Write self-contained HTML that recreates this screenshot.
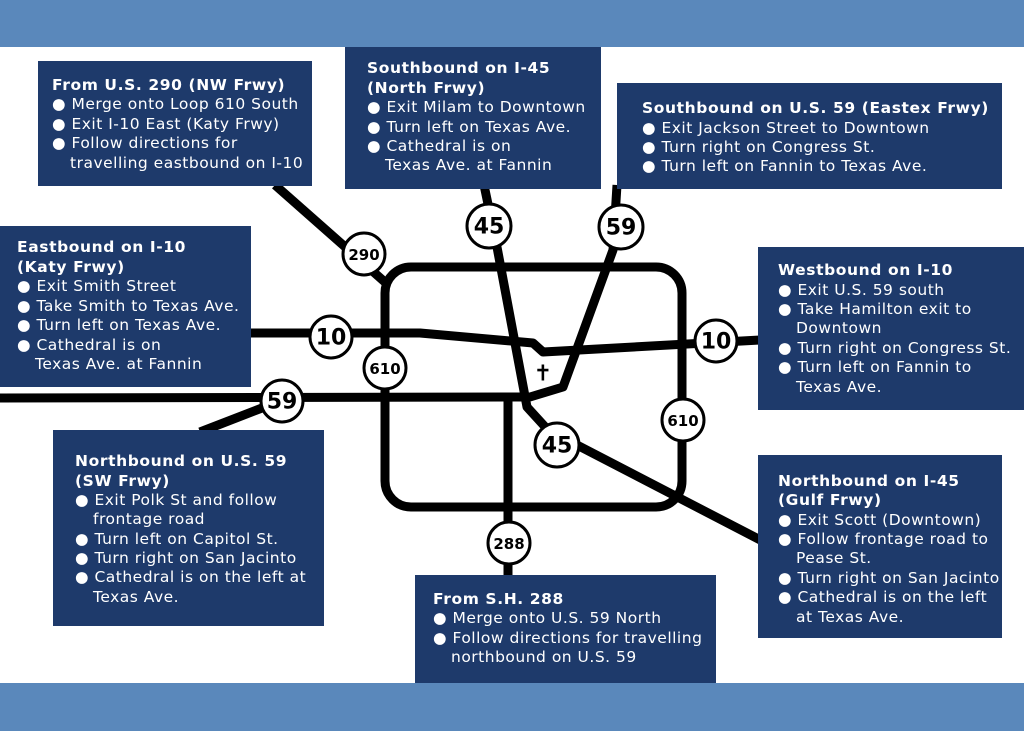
<!DOCTYPE html>
<html><head><meta charset="utf-8"><style>
html,body{margin:0;padding:0;background:#fff}
svg{display:block}
.t{font-family:"DejaVu Sans","Liberation Sans",sans-serif;font-size:15.5px;letter-spacing:0.5px;fill:#fff}
.b{font-weight:bold;letter-spacing:0.6px}
.s{font-family:"DejaVu Sans","Liberation Sans",sans-serif;font-weight:bold;fill:#000;text-anchor:middle;dominant-baseline:central}
</style></head><body>
<svg width="1024" height="731" viewBox="0 0 1024 731" xmlns="http://www.w3.org/2000/svg">
<rect x="0" y="0" width="1024" height="47" fill="#5a88bb"/>
<rect x="0" y="683" width="1024" height="48" fill="#5a88bb"/>
<g fill="none" stroke="#000" stroke-width="9" stroke-linejoin="round">
<rect x="385" y="267" width="297" height="240" rx="26"/>
<polyline points="0,333 420,333 533,343 543,352 760,340"/>
<polyline points="484,185 497,247 527,407 548,430 770,545"/>
<polyline points="617,185 613,250 563,387 530,397 0,398"/>
<line x1="262" y1="408" x2="200" y2="432"/>
<line x1="508" y1="398" x2="508" y2="580"/>
<line x1="275" y1="185" x2="386" y2="283"/>
</g>
<g fill="#fff" stroke="#000" stroke-width="3">
<circle cx="489" cy="226" r="22"/><circle cx="621" cy="227" r="22"/>
<circle cx="364" cy="254" r="21"/><circle cx="331" cy="337" r="21"/>
<circle cx="716" cy="341" r="21"/><circle cx="385" cy="368" r="21"/>
<circle cx="282" cy="401" r="21"/><circle cx="683" cy="420" r="21"/>
<circle cx="557" cy="445" r="22"/><circle cx="509" cy="543" r="21"/>
</g>
<text class="s" x="489" y="227" font-size="22">45</text>
<text class="s" x="621" y="228" font-size="22">59</text>
<text class="s" x="364" y="255" font-size="15">290</text>
<text class="s" x="331" y="338" font-size="22">10</text>
<text class="s" x="716" y="342" font-size="22">10</text>
<text class="s" x="385" y="369" font-size="15">610</text>
<text class="s" x="282" y="402" font-size="22">59</text>
<text class="s" x="683" y="421" font-size="15">610</text>
<text class="s" x="557" y="446" font-size="22">45</text>
<text class="s" x="509" y="544" font-size="15">288</text>
<text class="s" x="543" y="374" font-size="22">✝</text>

<g fill="#1e3a6b">
<rect x="38" y="61" width="274" height="125"/>
<rect x="345" y="47" width="256" height="142"/>
<rect x="617" y="83" width="385" height="106"/>
<rect x="0" y="226" width="251" height="161"/>
<rect x="758" y="247" width="266" height="163"/>
<rect x="53" y="430" width="271" height="196"/>
<rect x="415" y="575" width="301" height="108"/>
<rect x="758" y="455" width="244" height="183"/>
</g>
<g class="t" dominant-baseline="central">
<text class="t b" x="52" y="85">From U.S. 290 (NW Frwy)</text>
<text class="t" x="52" y="104">●  Merge onto Loop 610 South</text>
<text class="t" x="52" y="124">●  Exit I-10 East (Katy Frwy)</text>
<text class="t" x="52" y="143">●  Follow directions for</text>
<text class="t" x="70" y="163">travelling eastbound on I-10</text>

<text class="t b" x="367" y="68">Southbound on I-45</text>
<text class="t b" x="367" y="88">(North Frwy)</text>
<text class="t" x="367" y="107">●  Exit Milam to Downtown</text>
<text class="t" x="367" y="127">●  Turn left on Texas Ave.</text>
<text class="t" x="367" y="146">●  Cathedral is on</text>
<text class="t" x="385" y="165">Texas Ave. at Fannin</text>

<text class="t b" x="642" y="108">Southbound on U.S. 59 (Eastex Frwy)</text>
<text class="t" x="642" y="128">●  Exit Jackson Street to Downtown</text>
<text class="t" x="642" y="147">●  Turn right on Congress St.</text>
<text class="t" x="642" y="166">●  Turn left on Fannin to Texas Ave.</text>

<text class="t b" x="17" y="247">Eastbound on I-10</text>
<text class="t b" x="17" y="267">(Katy Frwy)</text>
<text class="t" x="17" y="286">●  Exit Smith Street</text>
<text class="t" x="17" y="306">●  Take Smith to Texas Ave.</text>
<text class="t" x="17" y="325">●  Turn left on Texas Ave.</text>
<text class="t" x="17" y="345">●  Cathedral is on</text>
<text class="t" x="35" y="364">Texas Ave. at Fannin</text>

<text class="t b" x="778" y="270">Westbound on I-10</text>
<text class="t" x="778" y="290">●  Exit U.S. 59 south</text>
<text class="t" x="778" y="309">●  Take Hamilton exit to</text>
<text class="t" x="796" y="328">Downtown</text>
<text class="t" x="778" y="348">●  Turn right on Congress St.</text>
<text class="t" x="778" y="367">●  Turn left on Fannin to</text>
<text class="t" x="796" y="387">Texas Ave.</text>

<text class="t b" x="75" y="461">Northbound on U.S. 59</text>
<text class="t b" x="75" y="481">(SW Frwy)</text>
<text class="t" x="75" y="500">●  Exit Polk St and follow</text>
<text class="t" x="93" y="519">frontage road</text>
<text class="t" x="75" y="539">●  Turn left on Capitol St.</text>
<text class="t" x="75" y="558">●  Turn right on San Jacinto</text>
<text class="t" x="75" y="577">●  Cathedral is on the left at</text>
<text class="t" x="93" y="597">Texas Ave.</text>

<text class="t b" x="433" y="599">From S.H. 288</text>
<text class="t" x="433" y="618">●  Merge onto U.S. 59 North</text>
<text class="t" x="433" y="638">●  Follow directions for travelling</text>
<text class="t" x="451" y="657">northbound on U.S. 59</text>

<text class="t b" x="778" y="481">Northbound on I-45</text>
<text class="t b" x="778" y="500">(Gulf Frwy)</text>
<text class="t" x="778" y="520">●  Exit Scott (Downtown)</text>
<text class="t" x="778" y="539">●  Follow frontage road to</text>
<text class="t" x="796" y="558">Pease St.</text>
<text class="t" x="778" y="578">●  Turn right on San Jacinto</text>
<text class="t" x="778" y="597">●  Cathedral is on the left</text>
<text class="t" x="796" y="617">at Texas Ave.</text>
</g>
</svg>
</body></html>
